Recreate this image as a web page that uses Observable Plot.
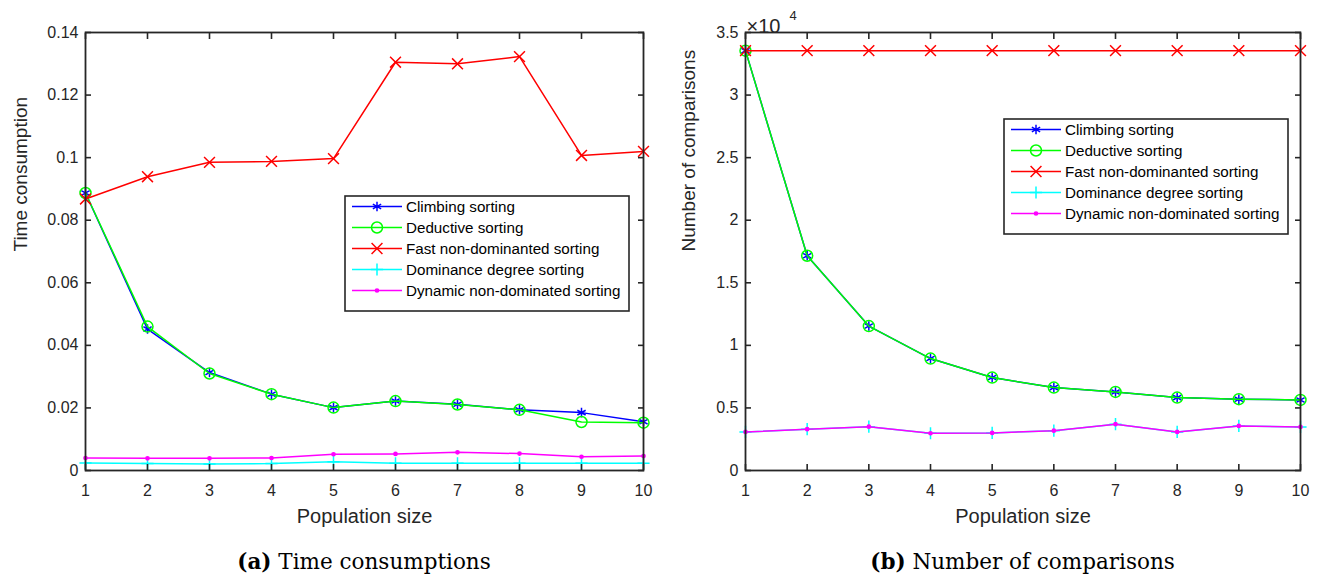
<!DOCTYPE html>
<html><head><meta charset="utf-8">
<script src="https://cdn.jsdelivr.net/npm/d3@7"></script>
<script src="https://cdn.jsdelivr.net/npm/@observablehq/plot@0.6"></script>
<style>
html,body{margin:0;padding:0;background:#fff;overflow:hidden}
#root{display:flex;width:1322px;height:577px}
.panel{position:relative;width:661px;height:577px}
.caption{font-family:"DejaVu Serif","Liberation Serif",serif;font-size:21.5px;text-align:center;color:#000;height:37px;line-height:37px;box-sizing:border-box;padding-top:3px;white-space:nowrap}
.legend{position:absolute}
</style></head><body><div id="root"></div>
<script>
// ---------- data ----------
const populationSizes = [1, 2, 3, 4, 5, 6, 7, 8, 9, 10];
const seriesNames = ["Climbing sorting", "Deductive sorting", "Fast non-dominanted sorting", "Dominance degree sorting", "Dynamic non-dominated sorting"];
const seriesColors = ["#0000ff", "#00ff00", "#ff0000", "#00ffff", "#ff00ff"];
const seriesSymbols = ["asterisk", "circle", "times", "plus", "circle"];

// (a) time consumption
const timeClimbing  = [0.0887, 0.0452, 0.0313, 0.0244, 0.0201, 0.0222, 0.0212, 0.0194, 0.0185, 0.0156];
const timeDeductive = [0.0887, 0.0460, 0.0310, 0.0244, 0.0201, 0.0222, 0.0211, 0.0194, 0.0155, 0.0153];
const timeFast      = [0.0868, 0.0939, 0.0985, 0.0988, 0.0997, 0.1305, 0.1300, 0.1323, 0.1007, 0.1020];
const timeDegree    = [0.0024, 0.0022, 0.0021, 0.0022, 0.0028, 0.0023, 0.0023, 0.0023, 0.0023, 0.0023];
const timeDynamic   = [0.0040, 0.0039, 0.0039, 0.0040, 0.0052, 0.0053, 0.0058, 0.0054, 0.0044, 0.0046];

// (b) number of comparisons
const cmpClimbing  = [33550, 17160, 11540, 8945, 7425, 6625, 6280, 5825, 5700, 5640];
const cmpDeductive = [33550, 17160, 11540, 8945, 7425, 6625, 6280, 5825, 5700, 5640];
const cmpFast      = [33550, 33550, 33550, 33550, 33550, 33550, 33550, 33550, 33550, 33550];
const cmpDegree    = [3080, 3300, 3500, 2975, 3000, 3185, 3700, 3080, 3560, 3480];
const cmpDynamic   = [3080, 3300, 3500, 2975, 3000, 3185, 3700, 3080, 3560, 3480];

const xTicks = [1, 2, 3, 4, 5, 6, 7, 8, 9, 10];
const timeTicks = [0, 0.02, 0.04, 0.06, 0.08, 0.1, 0.12, 0.14];
const cmpTicks = [0, 5000, 10000, 15000, 20000, 25000, 30000, 35000];
const cmpTickLabels = ["0", "0.5", "1", "1.5", "2", "2.5", "3", "3.5"];

// ---------- styling ----------
const AX = "#262626";
const markerR = [4.5, 5.5, 5, 4, 1.6];
const markerFill = ["none", "none", "none", "none", "#ff00ff"];
const SANS = "'Liberation Sans', Arial, Helvetica, sans-serif";
const TL = 6; // inward tick length
const blank = () => "";

function makeChart(cfg) {
  const marks = [];
  cfg.series.forEach((vals, i) => {
    const rows = populationSizes.map((x, j) => ({x, y: vals[j]}));
    marks.push(Plot.line(rows, {x: "x", y: "y", stroke: seriesColors[i], strokeWidth: 1.5}));
    marks.push(Plot.dot(rows, {x: "x", y: "y", symbol: () => seriesSymbols[i], r: markerR[i],
      stroke: seriesColors[i], fill: markerFill[i], strokeWidth: 1.5}));
  });
  marks.push(
    Plot.frame({stroke: AX, strokeWidth: 1.8}),
    // tick labels
    Plot.axisX({anchor: "bottom", ticks: xTicks, tickSize: 0, tickPadding: 14, label: null, fontSize: 16, fill: AX}),
    Plot.axisY({anchor: "left", ticks: cfg.yTicks, tickSize: 0, tickPadding: 7, tickFormat: cfg.yFormat, label: null, fontSize: 16, fill: AX}),
    // inward ticks on all four sides
    Plot.axisX({anchor: "bottom", ticks: xTicks, tickSize: TL, dy: -TL, tickFormat: blank, label: null, stroke: AX, strokeWidth: 1.6}),
    Plot.axisX({anchor: "top", ticks: xTicks, tickSize: TL, dy: TL, tickFormat: blank, label: null, stroke: AX, strokeWidth: 1.6}),
    Plot.axisY({anchor: "left", ticks: cfg.yTicks, tickSize: TL, dx: TL, tickFormat: blank, label: null, stroke: AX, strokeWidth: 1.6}),
    Plot.axisY({anchor: "right", ticks: cfg.yTicks, tickSize: TL, dx: -TL, tickFormat: blank, label: null, stroke: AX, strokeWidth: 1.6}),
    Plot.text(["Population size"], {frameAnchor: "bottom", dy: 52, fontSize: 20, fill: AX}),
    Plot.text([cfg.yLabel], {frameAnchor: "left", rotate: -90, dx: cfg.yLabelDx, fontSize: 19, fill: AX})
  );
  if (cfg.exponent) {
    marks.push(
      Plot.text(["×10"], {frameAnchor: "top-left", textAnchor: "start", dx: 1, dy: -14, fontSize: 20, fill: AX}),
      Plot.text(["4"], {frameAnchor: "top-left", textAnchor: "start", dx: 44, dy: -22, fontSize: 13, fill: AX})
    );
  }
  return Plot.plot({
    width: 661, height: 540,
    marginLeft: cfg.marginLeft, marginRight: cfg.marginRight, marginTop: 32, marginBottom: 70,
    style: {fontFamily: SANS, fontSize: "16px", color: AX, background: "#fff", overflow: "visible"},
    x: {domain: [1, 10], label: null},
    y: {domain: cfg.yDomain, label: null},
    marks
  });
}

function addLegend(panel, box) {
  const rowH = 21;
  const svg = d3.select(panel).append("svg").attr("class", "legend")
    .style("left", box.left + "px").style("top", box.top + "px")
    .attr("width", box.width + 2).attr("height", rowH * 5 + 12);
  svg.append("rect").attr("x", 1).attr("y", 1).attr("width", box.width).attr("height", rowH * 5 + 10)
    .attr("fill", "#fff").attr("stroke", AX).attr("stroke-width", 1.6);
  const symMap = {asterisk: d3.symbolAsterisk, circle: d3.symbolCircle, times: d3.symbolTimes, plus: d3.symbolPlus};
  seriesNames.forEach((name, i) => {
    const cy = 11.5 + rowH * i;
    svg.append("line").attr("x1", 8).attr("x2", 58).attr("y1", cy).attr("y2", cy)
      .attr("stroke", seriesColors[i]).attr("stroke-width", 1.5);
    svg.append("path").attr("transform", `translate(33,${cy})`)
      .attr("d", d3.symbol(symMap[seriesSymbols[i]], markerR[i] * markerR[i] * Math.PI)())
      .attr("stroke", seriesColors[i]).attr("stroke-width", 1.5).attr("fill", markerFill[i]);
    svg.append("text").attr("x", 62).attr("y", cy).attr("dy", "0.35em")
      .attr("font-family", SANS).attr("font-size", 15.2).attr("fill", "#000").text(name);
  });
}

const root = document.getElementById("root");

// panel (a)
const pa = document.createElement("div"); pa.className = "panel"; root.appendChild(pa);
pa.appendChild(makeChart({
  series: [timeClimbing, timeDeductive, timeFast, timeDegree, timeDynamic],
  yDomain: [0, 0.14], yTicks: timeTicks, yFormat: d => String(+d.toFixed(2)),
  yLabel: "Time consumption", yLabelDx: -65, marginLeft: 85, marginRight: 18
}));
const ca = document.createElement("div"); ca.className = "caption";
ca.style.paddingLeft = "85px"; ca.style.paddingRight = "18px";
ca.innerHTML = "<b>(a)</b> Time consumptions"; pa.appendChild(ca);
addLegend(pa, {left: 344, top: 195, width: 284});

// panel (b)
const pb = document.createElement("div"); pb.className = "panel"; root.appendChild(pb);
pb.appendChild(makeChart({
  series: [cmpClimbing, cmpDeductive, cmpFast, cmpDegree, cmpDynamic],
  yDomain: [0, 35000], yTicks: cmpTicks, yFormat: d => cmpTickLabels[cmpTicks.indexOf(d)],
  yLabel: "Number of comparisons", yLabelDx: -57, marginLeft: 84, marginRight: 22, exponent: true
}));
const cb = document.createElement("div"); cb.className = "caption";
cb.style.paddingLeft = "84px"; cb.style.paddingRight = "22px";
cb.innerHTML = "<b>(b)</b> Number of comparisons"; pb.appendChild(cb);
addLegend(pb, {left: 342, top: 118, width: 284});
</script></body></html>
